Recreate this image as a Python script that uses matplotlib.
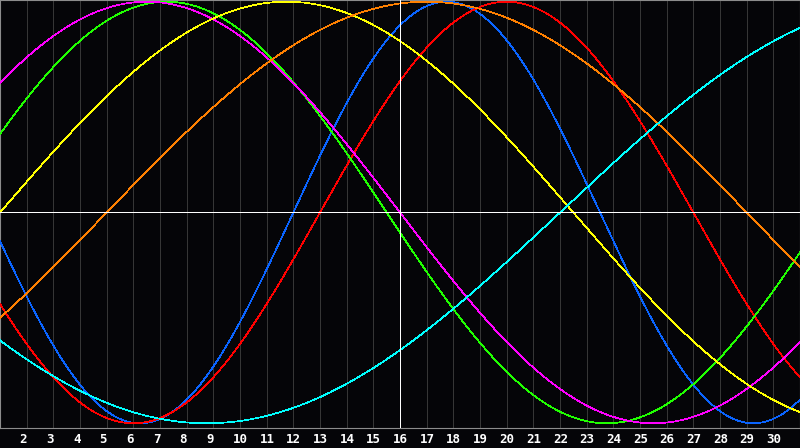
import numpy as np
import matplotlib
matplotlib.use("Agg")
import matplotlib.pyplot as plt
import matplotlib.transforms as mtransforms

# Biorhythm chart data
days = list(range(1, 32))                 # days of the month shown (1..31)
day_labels = [str(d) for d in range(2, 31)]
label_days = list(range(2, 31))
days_since_birth_day1 = 23564             # day count at day 1
periods = [23, 28, 33, 38, 43, 48, 53]
colors = ["#0a64ff", "#ff0000", "#20ff00", "#ff00ff", "#ffff00", "#ff8000", "#00ffff"]
today = 16

W, H = 800, 448
fig = plt.figure(figsize=(W / 100, H / 100), dpi=100, facecolor="#050508")
ax = fig.add_axes([0, (H - 428) / H, 1, 428 / H])
ax.set_facecolor("#050508")

t = np.linspace(days[0], days[-1], 1601)
for p, c in zip(periods, colors):
    n = days_since_birth_day1 + (t - days[0])
    ax.plot(t, np.sin(2 * np.pi * n / p), color=c, lw=0.5, antialiased=False, zorder=3)

for d in label_days:
    ax.axvline(d, color="#363636", lw=0.5, antialiased=False, zorder=1)

ax.axhline(0, color="white", lw=0.6, antialiased=False, zorder=5)
ax.axvline(today, color="white", lw=0.6, antialiased=False, zorder=5)

ax.set_xlim(days[0], days[-1])
ax.set_ylim(-1.0223, 1.008)
ax.set_xticks([])
ax.set_yticks([])
for s in ax.spines.values():
    s.set_color("#8c8c8c")
    s.set_linewidth(0.8)

offset = mtransforms.ScaledTranslation(-7 / 100, 0, fig.dpi_scale_trans)
trans = mtransforms.blended_transform_factory(ax.transData, fig.transFigure) + offset
for d, lab in zip(label_days, day_labels):
    fig.text(d, 9 / H, lab, transform=trans, ha="left", va="center",
             color="white", fontsize=9, fontweight="bold", family="DejaVu Sans Mono")

fig.savefig("out.png", dpi=100, facecolor=fig.get_facecolor())
